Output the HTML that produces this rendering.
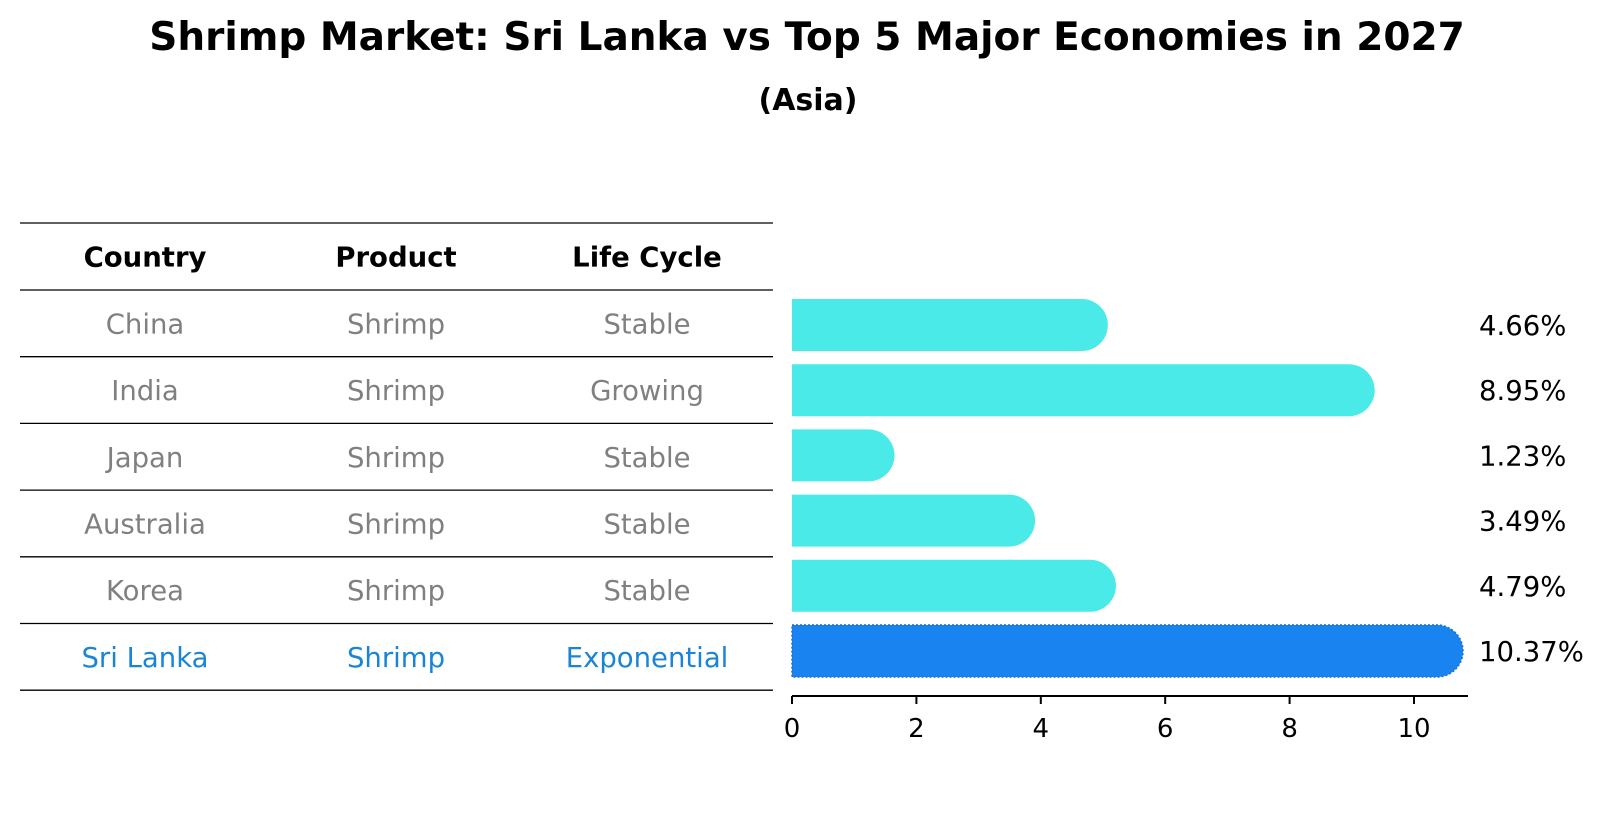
<!DOCTYPE html>
<html><head><meta charset="utf-8"><style>
html,body{margin:0;padding:0;background:#fff;}
svg{display:block;font-family:"DejaVu Sans","Liberation Sans",sans-serif;}
</style></head><body>
<svg id="chart" width="1604" height="823" viewBox="0 0 1604 823" xmlns="http://www.w3.org/2000/svg">
<text x="807" y="50" text-anchor="middle" font-size="39" font-weight="bold" fill="#000">Shrimp Market: Sri Lanka vs Top 5 Major Economies in 2027</text>
<text x="808" y="110" text-anchor="middle" font-size="30" font-weight="bold" fill="#000">(Asia)</text>
<g id="table"></g>
<g id="bars"></g>
<g id="axis"></g>
</svg>
<script>
const countries = ["China","India","Japan","Australia","Korea","Sri Lanka"];
const products = ["Shrimp","Shrimp","Shrimp","Shrimp","Shrimp","Shrimp"];
const lifeCycles = ["Stable","Growing","Stable","Stable","Stable","Exponential"];
const values = [4.66, 8.95, 1.23, 3.49, 4.79, 10.37];
const valueLabels = ["4.66%","8.95%","1.23%","3.49%","4.79%","10.37%"];
const xTicks = [0, 2, 4, 6, 8, 10];
const headers = ["Country","Product","Life Cycle"];

const NS = "http://www.w3.org/2000/svg";
function mk(tag, attrs, parent){ const e=document.createElementNS(NS,tag); for(const k in attrs) e.setAttribute(k,attrs[k]); parent.appendChild(e); return e; }

// axis functions
const x0 = 792, pxPerUnit = 62.2;
function xScale(v){ return x0 + v*pxPerUnit; }
const rowTop = 290, rowH = 66.7, barH = 52;
function rowCenter(i){ return 325 + i*65.2; }

// table
const table = document.getElementById('table');
const colX = [145, 396, 647];
const lineYs = [223];
for(let i=0;i<=countries.length;i++) lineYs.push(rowTop + i*rowH);
lineYs.forEach((y,i)=>{
  const l = mk('line',{x1:20,x2:773,y1:y,y2:y,stroke:'#000','stroke-width':1.3},table);
  
  
});
headers.forEach((h,j)=>{
  const t = mk('text',{x:colX[j],y:(223+rowTop)/2+10,'text-anchor':'middle','font-size':27.5,'font-weight':'bold',fill:'#000'},table);
  t.textContent = h;
  
  
});
countries.forEach((c,i)=>{
  const isSL = c === "Sri Lanka";
  const cy = rowTop + i*rowH + rowH/2 + 10;
  [c, products[i], lifeCycles[i]].forEach((txt,j)=>{
    const t = mk('text',{x:colX[j],y:cy,'text-anchor':'middle','font-size':27.5,fill:isSL?'#1a85d6':'#808080'},table);
    t.textContent = txt;
    
    
  });
});

// bars
const bars = document.getElementById('bars');
values.forEach((v,i)=>{
  const isSL = countries[i] === "Sri Lanka";
  const cy = rowCenter(i), r = barH/2, xe = xScale(v);
  const col = isSL ? '#1984f0' : '#4aeae8';
  const d = `M${x0},${cy-r} L${xe},${cy-r} A${r},${r} 0 0 1 ${xe},${cy+r} L${x0},${cy+r} Z`;
  const p = mk('path',{d:d,fill:col},bars);
  if(isSL){ p.setAttribute('stroke','#1a6fd0'); p.setAttribute('stroke-width','1.5'); p.setAttribute('stroke-dasharray','2,2'); }
  
  
  const t = mk('text',{x:1479,y:cy+10,'font-size':27.5,fill:'#000'},bars);
  t.textContent = valueLabels[i];
  
  
});

// axis
const axis = document.getElementById('axis');
const al = mk('line',{x1:x0,x2:1468,y1:696,y2:696,stroke:'#000','stroke-width':2},axis);


xTicks.forEach(v=>{
  const x = xScale(v);
  const tk = mk('line',{x1:x,x2:x,y1:696,y2:704,stroke:'#000','stroke-width':2},axis);
  
  
  const t = mk('text',{x:x,y:737,'text-anchor':'middle','font-size':26,fill:'#000'},axis);
  t.textContent = String(v);
  
  
});
</script>
</body></html>
